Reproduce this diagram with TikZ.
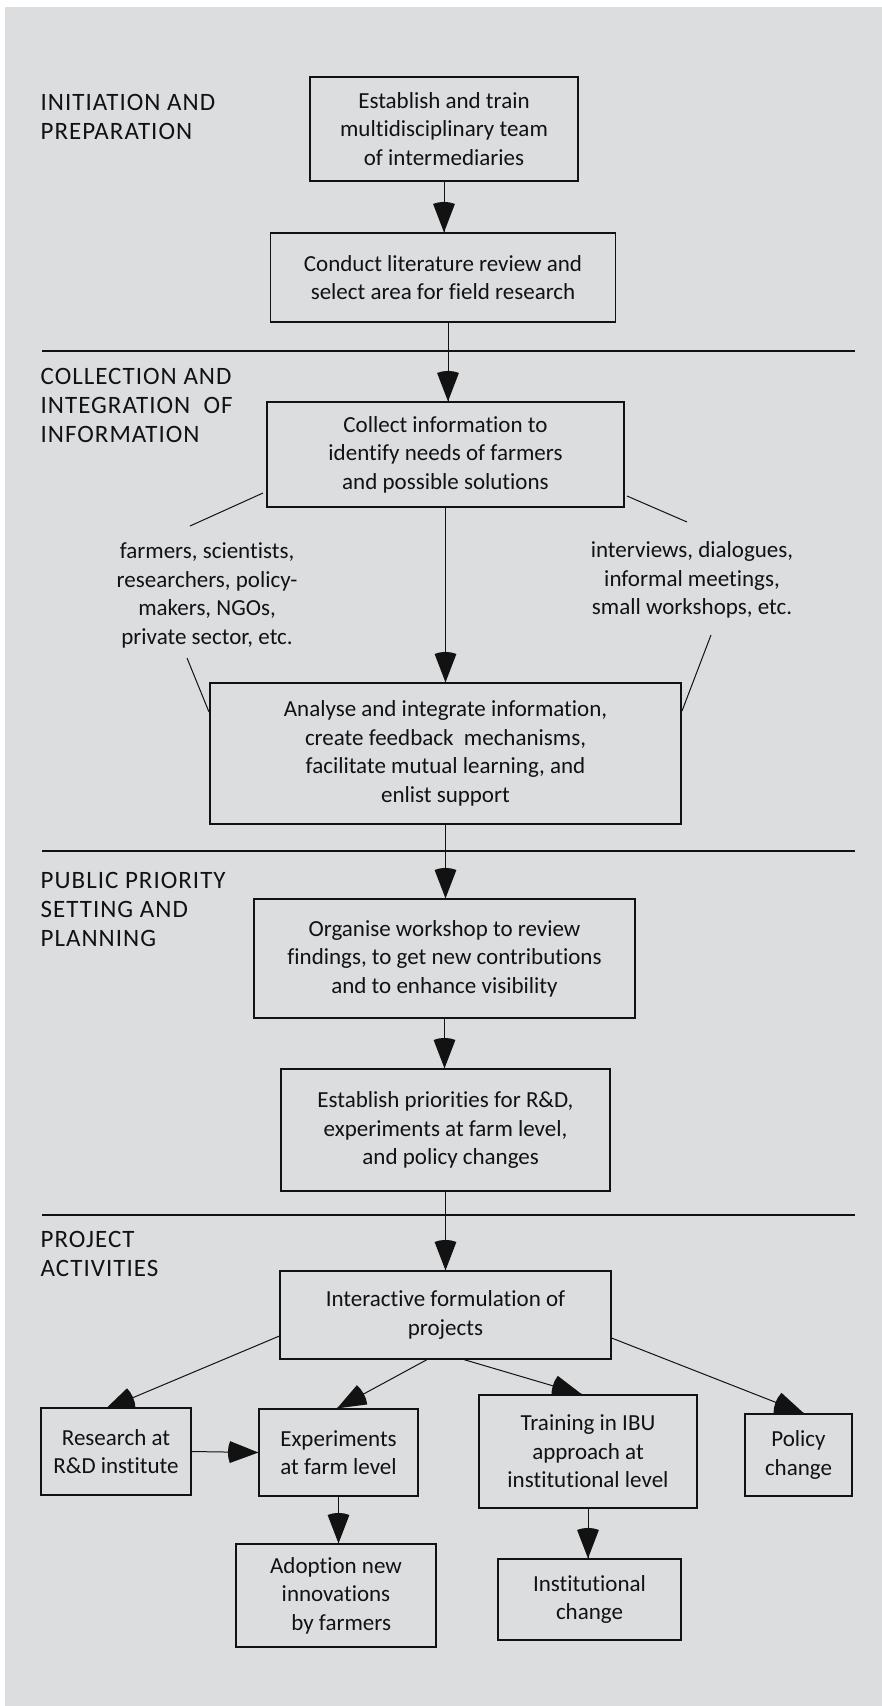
\documentclass[tikz,border=0pt]{standalone}
\usepackage{fontspec}
\setmainfont{Carlito}[Ligatures={NoCommon,NoRare,NoContextual}]
\usetikzlibrary{calc,decorations.markings}

\definecolor{panel}{RGB}{220,221,223}
\definecolor{ink}{RGB}{18,18,18}

\newcommand\boxfont{\fontsize{23}{28.5}\selectfont}
\newcommand\stagefont{\fontsize{25}{29}\selectfont\addfontfeature{LetterSpace=4}}

\pgfdeclarelayer{back}
\pgfdeclarelayer{mid}
\pgfsetlayers{back,mid,main}

\tikzset{
  box/.style={draw=ink, line width=1.2pt, fill=panel, align=center,
              inner sep=0pt, font=\boxfont, text=ink},
  stage/.style={anchor=north west, align=left, inner sep=0pt,
                font=\stagefont, text=ink},
  note/.style={align=center, inner sep=0pt, font=\boxfont, text=ink},
  wire/.style={draw=ink, line width=1pt},
  rule/.style={draw=ink, line width=1.1pt},
  % pie-slice arrow head: straight flanks, rounded back
  arr/.style={wire, postaction={decorate},
    decoration={markings, mark=at position 1 with {
      \fill[ink] (0,0) -- (159:30.5pt) arc[start angle=159, end angle=201, radius=30.5pt] -- cycle;}}},
}

\begin{document}
\begin{tikzpicture}[x=1pt,y=-1pt]
\useasboundingbox (0,0) rectangle (882,1706);
\begin{pgfonlayer}{back}
  \fill[white] (0,0) rectangle (882,1706);
  \fill[panel] (4.7,6.7) rectangle (882,1706);
  % section dividers
  \draw[rule] (42,351) -- (855,351);
  \draw[rule] (42,851) -- (855,851);
  \draw[rule] (42,1215) -- (855,1215);
\end{pgfonlayer}

% stage headings
\node[stage] (s1) at (40.5,94.5) {INITIATION AND\\PREPARATION};
\node[stage] (s2) at (40.5,368.5) {COLLECTION AND\\INTEGRATION\ \ OF\\INFORMATION};
\node[stage] (s3) at (40.5,872) {PUBLIC PRIORITY\\SETTING AND\\PLANNING};
\node[stage] (s4) at (40.5,1231) {PROJECT\\ACTIVITIES};

% main chain
\node[box, minimum width=268pt, minimum height=104pt] (team) at (444,129)
  {Establish and train\\multidisciplinary team\\of intermediaries};
\node[box, minimum width=345pt, minimum height=89pt] (lit) at (443,277.5)
  {Conduct literature review and\\select area for field research};
\node[box, minimum width=357pt, minimum height=105pt] (collect) at (445.5,454.5)
  {Collect information to\\identify needs of farmers\\and possible solutions};
\node[box, minimum width=471pt, minimum height=141pt] (analyse) at (445.5,753.5)
  {Analyse and integrate information,\\create feedback\ \ mechanisms,\\facilitate mutual learning, and\\enlist support};
\node[box, minimum width=381pt, minimum height=119pt] (organise) at (444.5,958.5)
  {Organise workshop to review\\findings, to get new contributions\\and to enhance visibility};
\node[box, minimum width=329pt, minimum height=122pt] (prio) at (445.5,1130)
  {Establish priorities for R\&D,\\experiments at farm level,\\\ \ and policy changes};
\node[box, minimum width=331pt, minimum height=88pt] (inter) at (445.5,1315)
  {Interactive formulation of\\projects};

% project activities
\node[box, minimum width=150pt, minimum height=87pt] (research) at (116,1451.5)
  {Research at\\R\&D institute};
\node[box, minimum width=159pt, minimum height=87pt] (expt) at (338.5,1452.5)
  {Experiments\\at farm level};
\node[box, minimum width=218pt, minimum height=113pt] (training) at (588,1451.5)
  {Training in IBU\\approach at\\institutional level};
\node[box, minimum width=107pt, minimum height=82pt] (policy) at (798.5,1455)
  {Policy\\change};
\node[box, minimum width=200pt, minimum height=103pt] (adopt) at (336,1595.5)
  {Adoption new\\innovations\\\ \ by farmers};
\node[box, minimum width=183pt, minimum height=81pt] (inst) at (589.5,1599.5)
  {Institutional\\change};

% side notes
\node[note] (who) at (207,595.5)
  {farmers, scientists,\\researchers, policy-\\makers, NGOs,\\private sector, etc.};
\node[note] (how) at (692,580)
  {interviews, dialogues,\\informal meetings,\\small workshops, etc.};

% ends of the side-note leader lines
\coordinate (wa) at (263,493);
\coordinate (wb) at (190,526);
\coordinate (wc) at (187,658);
\coordinate (wd) at (209,712);
\coordinate (ha) at (627,496);
\coordinate (hb) at (687,522);
\coordinate (hc) at (711,635);
\coordinate (hd) at (682,711);

\begin{pgfonlayer}{mid}
  \draw[arr] (team.south) -- (team.south |- lit.north);
  \draw[arr] ([xshift=5pt]lit.south) -- ([xshift=5pt]lit.south |- collect.north);
  \draw[arr] (collect.south) -- (collect.south |- analyse.north);
  \draw[arr] (analyse.south) -- (analyse.south |- organise.north);
  \draw[arr] (organise.south) -- (organise.south |- prio.north);
  \draw[arr] (prio.south) -- (prio.south |- inter.north);

  \draw[wire] (wa) -- (wb);
  \draw[wire] (wc) -- (wd);
  \draw[wire] (ha) -- (hb);
  \draw[wire] (hc) -- (hd);

  \draw[arr] ($(inter.west)+(0,21)$) -- ($(research.north)+(-11,2)$);
  \draw[arr] ($(inter.south)+(-18.5,0)$) -- ($(expt.north)+(-1.5,0)$);
  \draw[arr] ($(inter.south)+(18.5,0)$) -- ($(training.north)+(-6,0)$);
  \draw[arr] ($(inter.east)+(0,23)$) -- ($(policy.north)+(5.5,0)$);

  \draw[arr] (research.east) -- (expt.west);
  \draw[arr] (expt.south) -- (expt.south |- adopt.north);
  \draw[arr] (training.south) -- (training.south |- inst.north);
\end{pgfonlayer}
\end{tikzpicture}
\end{document}
